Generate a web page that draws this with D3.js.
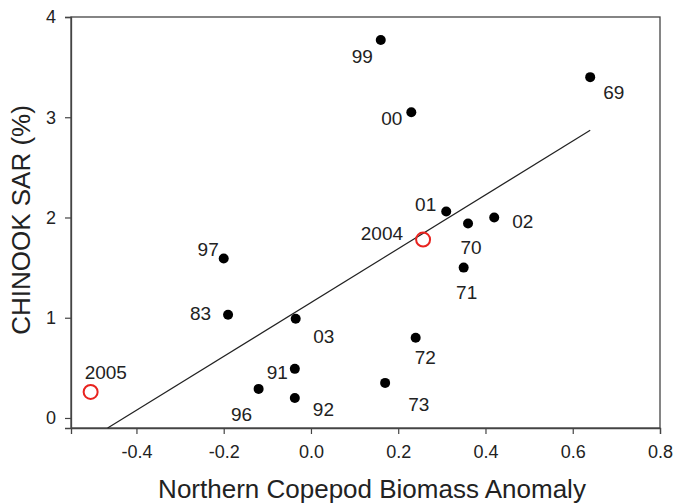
<!DOCTYPE html>
<html>
<head>
<meta charset="utf-8">
<script src="https://cdn.jsdelivr.net/npm/d3@7"></script>
<style>
  html, body { margin: 0; padding: 0; background: #fff; }
  svg { display: block; font-family: "Liberation Sans", Arial, sans-serif; }
</style>
</head>
<body>
<svg id="chart" width="674" height="504"></svg>
<script>
// ---- data ----
const yearLabels = ["99","69","00","01","02","70","2004","71","72","73","97","83","03","91","96","92","2005"];
const copepodAnomaly = [0.16,0.64,0.23,0.31,0.42,0.36,0.257,0.35,0.24,0.17,-0.20,-0.19,-0.035,-0.037,-0.12,-0.037,-0.505];
const chinookSAR = [3.77,3.40,3.05,2.06,2.00,1.94,1.78,1.50,0.80,0.35,1.59,1.03,0.99,0.49,0.29,0.20,0.26];
const highlightYears = ["2004","2005"];
const fitX = [-0.466, 0.64];
const fitY = [-0.1, 2.87];
const xTickValues = [-0.4,-0.2,0.0,0.2,0.4,0.6,0.8];
const xTickLabels = ["-0.4","-0.2","0.0","0.2","0.4","0.6","0.8"];
const yTickValues = [0,1,2,3,4];
const yTickLabels = ["0","1","2","3","4"];
const xTitle = "Northern Copepod Biomass Anomaly";
const yTitle = "CHINOOK SAR (%)";

// label placement (styling): [dx, dy, anchor]
const labelPlace = {
  "99":[-8,23,"end"], "69":[13,22,"start"], "00":[-9,12.5,"end"], "01":[-10,0,"end"],
  "02":[18,11,"start"], "70":[3,30,"middle"], "2004":[-20,0,"end"], "71":[3,31,"middle"],
  "72":[-1,26,"start"], "73":[23,28,"start"], "97":[-5,-3,"end"], "83":[-17,5,"end"],
  "03":[17.5,24,"start"], "91":[-7,10,"end"], "96":[-6.5,32,"end"], "92":[18,18,"start"],
  "2005":[-6,-12.7,"start"]
};

const points = yearLabels.map((y,i)=>({year:y, x:copepodAnomaly[i], y:chinookSAR[i], open: highlightYears.includes(y)}));

const svg = d3.select("#chart");
const L = 71, R = 660, T = 17, B = 428;
const x = d3.scaleLinear().domain([-0.55, 0.8]).range([L, R]);
const y = d3.scaleLinear().domain([-0.1, 4]).range([B, T]);
const ink = "#222";

// frame
svg.append("rect").attr("x",L).attr("y",T).attr("width",R-L).attr("height",B-T)
  .attr("fill","none").attr("stroke","#444").attr("stroke-width",1.3);

// axes
const xAxis = d3.axisBottom(x).tickValues(xTickValues)
  .tickFormat((d,i)=>xTickLabels[i]).tickSize(6).tickPadding(11);
const gx = svg.append("g").attr("transform",`translate(0,${B})`).call(xAxis);
const yAxis = d3.axisLeft(y).tickValues(yTickValues)
  .tickFormat((d,i)=>yTickLabels[i]).tickSize(6).tickPadding(9);
const gy = svg.append("g").attr("transform",`translate(${L},0)`).call(yAxis);
[gx,gy].forEach(g=>{
  g.select(".domain").attr("stroke","#444").attr("stroke-width",1.3);
  g.selectAll(".tick line").attr("stroke","#444").attr("stroke-width",1.2);
  g.selectAll(".tick text").attr("fill",ink).attr("font-size",18)
   .attr("font-family",'"Liberation Sans", Arial, sans-serif');
});

// regression line
svg.append("line")
  .attr("x1",x(fitX[0])).attr("y1",y(fitY[0]))
  .attr("x2",x(fitX[1])).attr("y2",y(fitY[1]))
  .attr("stroke",ink).attr("stroke-width",1.2);

// points
svg.append("g").selectAll("circle").data(points).join("circle")
  .attr("cx",d=>x(d.x)).attr("cy",d=>y(d.y))
  .attr("r",d=>d.open?7:5)
  .attr("fill",d=>d.open?"none":"#000")
  .attr("stroke",d=>d.open?"#e8231f":"none")
  .attr("stroke-width",2);

// point labels
svg.append("g").selectAll("text").data(points).join("text")
  .attr("x",d=>x(d.x)+labelPlace[d.year][0])
  .attr("y",d=>y(d.y)+labelPlace[d.year][1])
  .attr("text-anchor",d=>labelPlace[d.year][2])
  .attr("font-size",19).attr("fill",ink)
  .text(d=>d.year);

// titles
svg.append("text").attr("x",372).attr("y",498).attr("text-anchor","middle")
  .attr("font-size",26).attr("fill",ink).text(xTitle);
svg.append("text").attr("transform","translate(30,220) rotate(-90)")
  .attr("text-anchor","middle").attr("font-size",26).attr("fill",ink).text(yTitle);
</script>
</body>
</html>
